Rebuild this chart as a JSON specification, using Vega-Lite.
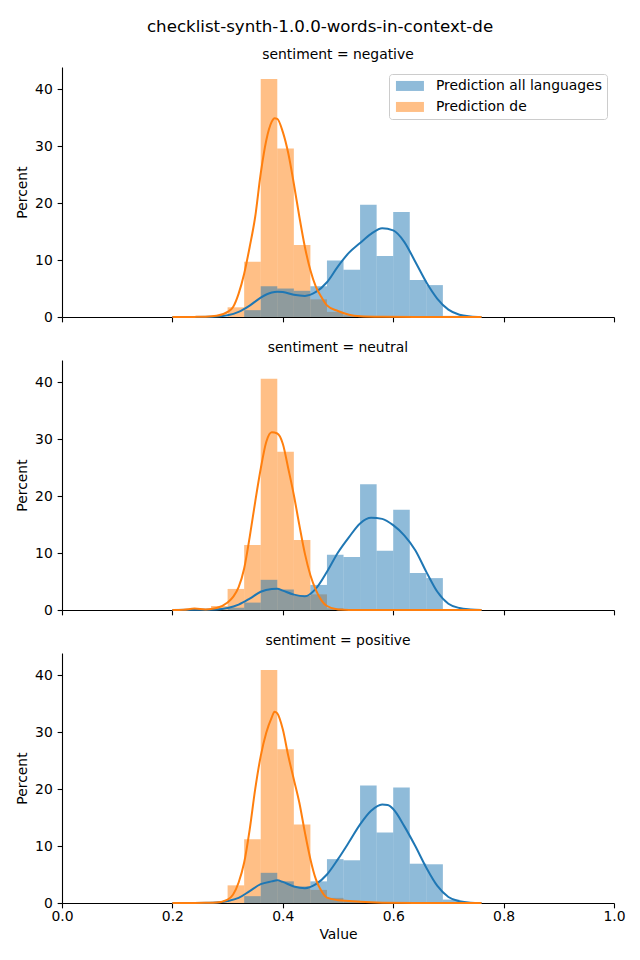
{
  "$schema": "https://vega.github.io/schema/vega-lite/v6.json",
  "padding": {"left": 15, "top": 19, "right": 20, "bottom": 5},
  "background": "white",
  "title": {"text": "checklist-synth-1.0.0-words-in-context-de", "fontSize": 16.67, "font": "DejaVu Sans", "fontWeight": "normal", "anchor": "middle", "baseline": "alphabetic", "offset": -1, "color": "black"},
  "config": {
    "view": {"stroke": null},
    "font": "DejaVu Sans",
    "title": {"fontSize": 13.9, "font": "DejaVu Sans", "fontWeight": "normal", "anchor": "middle", "baseline": "alphabetic", "offset": 5, "color": "black"},
    "axis": {"grid": false, "domainColor": "black", "tickColor": "black", "domainWidth": 1.1, "tickWidth": 1.1, "tickSize": 4.86, "labelPadding": 4.86, "labelFont": "DejaVu Sans", "titleFont": "DejaVu Sans", "labelFontSize": 13.9, "titleFontSize": 13.9, "titleFontWeight": "normal", "labelColor": "black", "titleColor": "black", "titlePadding": 5.56, "labelFlush": false, "labelOverlap": false},
    "axisX": {"labelPadding": 2, "titlePadding": 3.5},
    "legend": {"orient": "top-right", "offset": 7, "padding": 5, "strokeColor": "#cccccc", "fillColor": "rgba(255,255,255,0.8)", "cornerRadius": 3, "labelFont": "DejaVu Sans", "labelFontSize": 13.9, "labelColor": "black", "labelLimit": 0, "symbolType": "M-2.8,-1H2.8V1H-2.8Z", "symbolSize": 100, "symbolOffset": 9, "labelOffset": 19, "symbolOpacity": 0.5, "symbolStrokeWidth": 0, "rowPadding": 6, "title": null}
  },
  "datasets": {
    "hist": [
      {"s": "negative", "series": "Prediction de", "x0": 0.30, "x1": 0.33, "pct": 1.7},
      {"s": "negative", "series": "Prediction de", "x0": 0.33, "x1": 0.36, "pct": 9.7},
      {"s": "negative", "series": "Prediction de", "x0": 0.36, "x1": 0.39, "pct": 41.8},
      {"s": "negative", "series": "Prediction de", "x0": 0.39, "x1": 0.42, "pct": 29.6},
      {"s": "negative", "series": "Prediction de", "x0": 0.42, "x1": 0.45, "pct": 12.65},
      {"s": "negative", "series": "Prediction de", "x0": 0.45, "x1": 0.48, "pct": 3.1},
      {"s": "negative", "series": "Prediction de", "x0": 0.48, "x1": 0.51, "pct": 0.9},
      {"s": "negative", "series": "Prediction de", "x0": 0.51, "x1": 0.54, "pct": 0.3},
      {"s": "neutral", "series": "Prediction de", "x0": 0.27, "x1": 0.30, "pct": 0.7},
      {"s": "neutral", "series": "Prediction de", "x0": 0.30, "x1": 0.33, "pct": 3.7},
      {"s": "neutral", "series": "Prediction de", "x0": 0.33, "x1": 0.36, "pct": 11.4},
      {"s": "neutral", "series": "Prediction de", "x0": 0.36, "x1": 0.39, "pct": 40.6},
      {"s": "neutral", "series": "Prediction de", "x0": 0.39, "x1": 0.42, "pct": 27.8},
      {"s": "neutral", "series": "Prediction de", "x0": 0.42, "x1": 0.45, "pct": 12.3},
      {"s": "neutral", "series": "Prediction de", "x0": 0.45, "x1": 0.48, "pct": 2.75},
      {"s": "neutral", "series": "Prediction de", "x0": 0.48, "x1": 0.51, "pct": 0.3},
      {"s": "positive", "series": "Prediction de", "x0": 0.27, "x1": 0.30, "pct": 0.2},
      {"s": "positive", "series": "Prediction de", "x0": 0.30, "x1": 0.33, "pct": 3.1},
      {"s": "positive", "series": "Prediction de", "x0": 0.33, "x1": 0.36, "pct": 11.2},
      {"s": "positive", "series": "Prediction de", "x0": 0.36, "x1": 0.39, "pct": 40.9},
      {"s": "positive", "series": "Prediction de", "x0": 0.39, "x1": 0.42, "pct": 27.0},
      {"s": "positive", "series": "Prediction de", "x0": 0.42, "x1": 0.45, "pct": 13.8},
      {"s": "positive", "series": "Prediction de", "x0": 0.45, "x1": 0.48, "pct": 2.3},
      {"s": "positive", "series": "Prediction de", "x0": 0.48, "x1": 0.51, "pct": 0.9},
      {"s": "positive", "series": "Prediction de", "x0": 0.51, "x1": 0.54, "pct": 0.4},
      {"s": "negative", "series": "Prediction all languages", "x0": 0.33, "x1": 0.36, "pct": 1.2},
      {"s": "negative", "series": "Prediction all languages", "x0": 0.36, "x1": 0.39, "pct": 5.4},
      {"s": "negative", "series": "Prediction all languages", "x0": 0.39, "x1": 0.42, "pct": 5.0},
      {"s": "negative", "series": "Prediction all languages", "x0": 0.42, "x1": 0.45, "pct": 4.6},
      {"s": "negative", "series": "Prediction all languages", "x0": 0.45, "x1": 0.48, "pct": 5.4},
      {"s": "negative", "series": "Prediction all languages", "x0": 0.48, "x1": 0.51, "pct": 9.9},
      {"s": "negative", "series": "Prediction all languages", "x0": 0.51, "x1": 0.54, "pct": 8.3},
      {"s": "negative", "series": "Prediction all languages", "x0": 0.54, "x1": 0.57, "pct": 19.7},
      {"s": "negative", "series": "Prediction all languages", "x0": 0.57, "x1": 0.60, "pct": 10.7},
      {"s": "negative", "series": "Prediction all languages", "x0": 0.60, "x1": 0.63, "pct": 18.45},
      {"s": "negative", "series": "Prediction all languages", "x0": 0.63, "x1": 0.66, "pct": 6.5},
      {"s": "negative", "series": "Prediction all languages", "x0": 0.66, "x1": 0.69, "pct": 5.6},
      {"s": "negative", "series": "Prediction all languages", "x0": 0.69, "x1": 0.72, "pct": 0.2},
      {"s": "neutral", "series": "Prediction all languages", "x0": 0.30, "x1": 0.33, "pct": 0.4},
      {"s": "neutral", "series": "Prediction all languages", "x0": 0.33, "x1": 0.36, "pct": 1.3},
      {"s": "neutral", "series": "Prediction all languages", "x0": 0.36, "x1": 0.39, "pct": 5.3},
      {"s": "neutral", "series": "Prediction all languages", "x0": 0.39, "x1": 0.42, "pct": 3.6},
      {"s": "neutral", "series": "Prediction all languages", "x0": 0.42, "x1": 0.45, "pct": 2.5},
      {"s": "neutral", "series": "Prediction all languages", "x0": 0.45, "x1": 0.48, "pct": 4.4},
      {"s": "neutral", "series": "Prediction all languages", "x0": 0.48, "x1": 0.51, "pct": 9.7},
      {"s": "neutral", "series": "Prediction all languages", "x0": 0.51, "x1": 0.54, "pct": 9.3},
      {"s": "neutral", "series": "Prediction all languages", "x0": 0.54, "x1": 0.57, "pct": 22.1},
      {"s": "neutral", "series": "Prediction all languages", "x0": 0.57, "x1": 0.60, "pct": 10.4},
      {"s": "neutral", "series": "Prediction all languages", "x0": 0.60, "x1": 0.63, "pct": 17.6},
      {"s": "neutral", "series": "Prediction all languages", "x0": 0.63, "x1": 0.66, "pct": 6.5},
      {"s": "neutral", "series": "Prediction all languages", "x0": 0.66, "x1": 0.69, "pct": 5.6},
      {"s": "positive", "series": "Prediction all languages", "x0": 0.33, "x1": 0.36, "pct": 1.2},
      {"s": "positive", "series": "Prediction all languages", "x0": 0.36, "x1": 0.39, "pct": 5.3},
      {"s": "positive", "series": "Prediction all languages", "x0": 0.39, "x1": 0.42, "pct": 3.8},
      {"s": "positive", "series": "Prediction all languages", "x0": 0.42, "x1": 0.45, "pct": 2.9},
      {"s": "positive", "series": "Prediction all languages", "x0": 0.45, "x1": 0.48, "pct": 3.8},
      {"s": "positive", "series": "Prediction all languages", "x0": 0.48, "x1": 0.51, "pct": 7.7},
      {"s": "positive", "series": "Prediction all languages", "x0": 0.51, "x1": 0.54, "pct": 7.5},
      {"s": "positive", "series": "Prediction all languages", "x0": 0.54, "x1": 0.57, "pct": 20.65},
      {"s": "positive", "series": "Prediction all languages", "x0": 0.57, "x1": 0.60, "pct": 12.4},
      {"s": "positive", "series": "Prediction all languages", "x0": 0.60, "x1": 0.63, "pct": 20.3},
      {"s": "positive", "series": "Prediction all languages", "x0": 0.63, "x1": 0.66, "pct": 6.9},
      {"s": "positive", "series": "Prediction all languages", "x0": 0.66, "x1": 0.69, "pct": 6.8},
      {"s": "positive", "series": "Prediction all languages", "x0": 0.69, "x1": 0.72, "pct": 0.6}
    ],
    "kde": [
      {"s": "negative", "series": "Prediction all languages", "v": 0.20, "d": 0},
      {"s": "negative", "series": "Prediction all languages", "v": 0.24, "d": 0.02},
      {"s": "negative", "series": "Prediction all languages", "v": 0.28, "d": 0.1},
      {"s": "negative", "series": "Prediction all languages", "v": 0.30, "d": 0.3},
      {"s": "negative", "series": "Prediction all languages", "v": 0.32, "d": 0.9},
      {"s": "negative", "series": "Prediction all languages", "v": 0.34, "d": 2.0},
      {"s": "negative", "series": "Prediction all languages", "v": 0.36, "d": 3.4},
      {"s": "negative", "series": "Prediction all languages", "v": 0.38, "d": 4.3},
      {"s": "negative", "series": "Prediction all languages", "v": 0.39, "d": 4.45},
      {"s": "negative", "series": "Prediction all languages", "v": 0.40, "d": 4.4},
      {"s": "negative", "series": "Prediction all languages", "v": 0.42, "d": 3.9},
      {"s": "negative", "series": "Prediction all languages", "v": 0.44, "d": 3.7},
      {"s": "negative", "series": "Prediction all languages", "v": 0.46, "d": 4.4},
      {"s": "negative", "series": "Prediction all languages", "v": 0.48, "d": 6.1},
      {"s": "negative", "series": "Prediction all languages", "v": 0.50, "d": 8.9},
      {"s": "negative", "series": "Prediction all languages", "v": 0.52, "d": 11.3},
      {"s": "negative", "series": "Prediction all languages", "v": 0.54, "d": 13.0},
      {"s": "negative", "series": "Prediction all languages", "v": 0.56, "d": 14.6},
      {"s": "negative", "series": "Prediction all languages", "v": 0.58, "d": 15.6},
      {"s": "negative", "series": "Prediction all languages", "v": 0.60, "d": 15.2},
      {"s": "negative", "series": "Prediction all languages", "v": 0.62, "d": 13.2},
      {"s": "negative", "series": "Prediction all languages", "v": 0.64, "d": 9.7},
      {"s": "negative", "series": "Prediction all languages", "v": 0.66, "d": 6.1},
      {"s": "negative", "series": "Prediction all languages", "v": 0.68, "d": 3.2},
      {"s": "negative", "series": "Prediction all languages", "v": 0.70, "d": 1.3},
      {"s": "negative", "series": "Prediction all languages", "v": 0.72, "d": 0.4},
      {"s": "negative", "series": "Prediction all languages", "v": 0.74, "d": 0.1},
      {"s": "negative", "series": "Prediction all languages", "v": 0.76, "d": 0},
      {"s": "negative", "series": "Prediction de", "v": 0.20, "d": 0},
      {"s": "negative", "series": "Prediction de", "v": 0.24, "d": 0.02},
      {"s": "negative", "series": "Prediction de", "v": 0.26, "d": 0.05},
      {"s": "negative", "series": "Prediction de", "v": 0.28, "d": 0.2},
      {"s": "negative", "series": "Prediction de", "v": 0.30, "d": 0.9},
      {"s": "negative", "series": "Prediction de", "v": 0.31, "d": 1.75},
      {"s": "negative", "series": "Prediction de", "v": 0.32, "d": 4.1},
      {"s": "negative", "series": "Prediction de", "v": 0.33, "d": 7.6},
      {"s": "negative", "series": "Prediction de", "v": 0.34, "d": 12.3},
      {"s": "negative", "series": "Prediction de", "v": 0.35, "d": 17.6},
      {"s": "negative", "series": "Prediction de", "v": 0.36, "d": 25.2},
      {"s": "negative", "series": "Prediction de", "v": 0.37, "d": 31.0},
      {"s": "negative", "series": "Prediction de", "v": 0.38, "d": 34.3},
      {"s": "negative", "series": "Prediction de", "v": 0.385, "d": 34.9},
      {"s": "negative", "series": "Prediction de", "v": 0.39, "d": 34.8},
      {"s": "negative", "series": "Prediction de", "v": 0.40, "d": 32.5},
      {"s": "negative", "series": "Prediction de", "v": 0.41, "d": 28.7},
      {"s": "negative", "series": "Prediction de", "v": 0.42, "d": 23.4},
      {"s": "negative", "series": "Prediction de", "v": 0.43, "d": 17.6},
      {"s": "negative", "series": "Prediction de", "v": 0.44, "d": 12.3},
      {"s": "negative", "series": "Prediction de", "v": 0.45, "d": 8.2},
      {"s": "negative", "series": "Prediction de", "v": 0.46, "d": 5.3},
      {"s": "negative", "series": "Prediction de", "v": 0.47, "d": 3.5},
      {"s": "negative", "series": "Prediction de", "v": 0.48, "d": 2.05},
      {"s": "negative", "series": "Prediction de", "v": 0.50, "d": 1.05},
      {"s": "negative", "series": "Prediction de", "v": 0.52, "d": 0.4},
      {"s": "negative", "series": "Prediction de", "v": 0.54, "d": 0.15},
      {"s": "negative", "series": "Prediction de", "v": 0.58, "d": 0.05},
      {"s": "negative", "series": "Prediction de", "v": 0.64, "d": 0.01},
      {"s": "negative", "series": "Prediction de", "v": 0.76, "d": 0},
      {"s": "neutral", "series": "Prediction all languages", "v": 0.20, "d": 0},
      {"s": "neutral", "series": "Prediction all languages", "v": 0.24, "d": 0.03},
      {"s": "neutral", "series": "Prediction all languages", "v": 0.28, "d": 0.1},
      {"s": "neutral", "series": "Prediction all languages", "v": 0.30, "d": 0.35},
      {"s": "neutral", "series": "Prediction all languages", "v": 0.32, "d": 0.95},
      {"s": "neutral", "series": "Prediction all languages", "v": 0.34, "d": 2.0},
      {"s": "neutral", "series": "Prediction all languages", "v": 0.36, "d": 3.2},
      {"s": "neutral", "series": "Prediction all languages", "v": 0.38, "d": 3.7},
      {"s": "neutral", "series": "Prediction all languages", "v": 0.39, "d": 3.75},
      {"s": "neutral", "series": "Prediction all languages", "v": 0.40, "d": 3.4},
      {"s": "neutral", "series": "Prediction all languages", "v": 0.42, "d": 2.7},
      {"s": "neutral", "series": "Prediction all languages", "v": 0.44, "d": 2.4},
      {"s": "neutral", "series": "Prediction all languages", "v": 0.46, "d": 3.75},
      {"s": "neutral", "series": "Prediction all languages", "v": 0.48, "d": 6.7},
      {"s": "neutral", "series": "Prediction all languages", "v": 0.50, "d": 10.1},
      {"s": "neutral", "series": "Prediction all languages", "v": 0.52, "d": 12.8},
      {"s": "neutral", "series": "Prediction all languages", "v": 0.54, "d": 15.2},
      {"s": "neutral", "series": "Prediction all languages", "v": 0.56, "d": 16.2},
      {"s": "neutral", "series": "Prediction all languages", "v": 0.58, "d": 16.0},
      {"s": "neutral", "series": "Prediction all languages", "v": 0.60, "d": 14.9},
      {"s": "neutral", "series": "Prediction all languages", "v": 0.62, "d": 13.1},
      {"s": "neutral", "series": "Prediction all languages", "v": 0.64, "d": 10.5},
      {"s": "neutral", "series": "Prediction all languages", "v": 0.66, "d": 6.7},
      {"s": "neutral", "series": "Prediction all languages", "v": 0.68, "d": 3.2},
      {"s": "neutral", "series": "Prediction all languages", "v": 0.70, "d": 1.1},
      {"s": "neutral", "series": "Prediction all languages", "v": 0.72, "d": 0.35},
      {"s": "neutral", "series": "Prediction all languages", "v": 0.74, "d": 0.1},
      {"s": "neutral", "series": "Prediction all languages", "v": 0.76, "d": 0},
      {"s": "neutral", "series": "Prediction de", "v": 0.20, "d": 0},
      {"s": "neutral", "series": "Prediction de", "v": 0.22, "d": 0.05},
      {"s": "neutral", "series": "Prediction de", "v": 0.24, "d": 0.25},
      {"s": "neutral", "series": "Prediction de", "v": 0.26, "d": 0.1},
      {"s": "neutral", "series": "Prediction de", "v": 0.28, "d": 0.35},
      {"s": "neutral", "series": "Prediction de", "v": 0.30, "d": 1.3},
      {"s": "neutral", "series": "Prediction de", "v": 0.31, "d": 2.3},
      {"s": "neutral", "series": "Prediction de", "v": 0.32, "d": 4.0},
      {"s": "neutral", "series": "Prediction de", "v": 0.33, "d": 7.3},
      {"s": "neutral", "series": "Prediction de", "v": 0.34, "d": 12.8},
      {"s": "neutral", "series": "Prediction de", "v": 0.35, "d": 19.0},
      {"s": "neutral", "series": "Prediction de", "v": 0.36, "d": 24.8},
      {"s": "neutral", "series": "Prediction de", "v": 0.37, "d": 29.5},
      {"s": "neutral", "series": "Prediction de", "v": 0.38, "d": 31.2},
      {"s": "neutral", "series": "Prediction de", "v": 0.39, "d": 31.0},
      {"s": "neutral", "series": "Prediction de", "v": 0.40, "d": 29.2},
      {"s": "neutral", "series": "Prediction de", "v": 0.41, "d": 24.8},
      {"s": "neutral", "series": "Prediction de", "v": 0.42, "d": 20.2},
      {"s": "neutral", "series": "Prediction de", "v": 0.43, "d": 14.9},
      {"s": "neutral", "series": "Prediction de", "v": 0.44, "d": 9.9},
      {"s": "neutral", "series": "Prediction de", "v": 0.45, "d": 6.1},
      {"s": "neutral", "series": "Prediction de", "v": 0.46, "d": 3.5},
      {"s": "neutral", "series": "Prediction de", "v": 0.47, "d": 1.7},
      {"s": "neutral", "series": "Prediction de", "v": 0.48, "d": 0.7},
      {"s": "neutral", "series": "Prediction de", "v": 0.50, "d": 0.1},
      {"s": "neutral", "series": "Prediction de", "v": 0.52, "d": 0.02},
      {"s": "neutral", "series": "Prediction de", "v": 0.60, "d": 0},
      {"s": "neutral", "series": "Prediction de", "v": 0.76, "d": 0},
      {"s": "positive", "series": "Prediction all languages", "v": 0.20, "d": 0},
      {"s": "positive", "series": "Prediction all languages", "v": 0.24, "d": 0.02},
      {"s": "positive", "series": "Prediction all languages", "v": 0.28, "d": 0.1},
      {"s": "positive", "series": "Prediction all languages", "v": 0.30, "d": 0.35},
      {"s": "positive", "series": "Prediction all languages", "v": 0.32, "d": 0.9},
      {"s": "positive", "series": "Prediction all languages", "v": 0.34, "d": 2.1},
      {"s": "positive", "series": "Prediction all languages", "v": 0.36, "d": 3.3},
      {"s": "positive", "series": "Prediction all languages", "v": 0.38, "d": 3.8},
      {"s": "positive", "series": "Prediction all languages", "v": 0.39, "d": 4.0},
      {"s": "positive", "series": "Prediction all languages", "v": 0.40, "d": 3.7},
      {"s": "positive", "series": "Prediction all languages", "v": 0.42, "d": 2.9},
      {"s": "positive", "series": "Prediction all languages", "v": 0.44, "d": 2.6},
      {"s": "positive", "series": "Prediction all languages", "v": 0.46, "d": 3.3},
      {"s": "positive", "series": "Prediction all languages", "v": 0.48, "d": 5.0},
      {"s": "positive", "series": "Prediction all languages", "v": 0.50, "d": 7.7},
      {"s": "positive", "series": "Prediction all languages", "v": 0.52, "d": 10.7},
      {"s": "positive", "series": "Prediction all languages", "v": 0.54, "d": 13.8},
      {"s": "positive", "series": "Prediction all languages", "v": 0.56, "d": 16.2},
      {"s": "positive", "series": "Prediction all languages", "v": 0.58, "d": 17.3},
      {"s": "positive", "series": "Prediction all languages", "v": 0.59, "d": 17.2},
      {"s": "positive", "series": "Prediction all languages", "v": 0.60, "d": 16.5},
      {"s": "positive", "series": "Prediction all languages", "v": 0.62, "d": 13.5},
      {"s": "positive", "series": "Prediction all languages", "v": 0.64, "d": 10.0},
      {"s": "positive", "series": "Prediction all languages", "v": 0.66, "d": 6.2},
      {"s": "positive", "series": "Prediction all languages", "v": 0.68, "d": 3.0},
      {"s": "positive", "series": "Prediction all languages", "v": 0.70, "d": 1.05},
      {"s": "positive", "series": "Prediction all languages", "v": 0.72, "d": 0.3},
      {"s": "positive", "series": "Prediction all languages", "v": 0.74, "d": 0.05},
      {"s": "positive", "series": "Prediction all languages", "v": 0.76, "d": 0},
      {"s": "positive", "series": "Prediction de", "v": 0.20, "d": 0},
      {"s": "positive", "series": "Prediction de", "v": 0.24, "d": 0.02},
      {"s": "positive", "series": "Prediction de", "v": 0.26, "d": 0.05},
      {"s": "positive", "series": "Prediction de", "v": 0.28, "d": 0.1},
      {"s": "positive", "series": "Prediction de", "v": 0.30, "d": 0.6},
      {"s": "positive", "series": "Prediction de", "v": 0.31, "d": 1.5},
      {"s": "positive", "series": "Prediction de", "v": 0.32, "d": 3.6},
      {"s": "positive", "series": "Prediction de", "v": 0.33, "d": 7.1},
      {"s": "positive", "series": "Prediction de", "v": 0.34, "d": 12.9},
      {"s": "positive", "series": "Prediction de", "v": 0.35, "d": 20.0},
      {"s": "positive", "series": "Prediction de", "v": 0.36, "d": 25.8},
      {"s": "positive", "series": "Prediction de", "v": 0.37, "d": 29.9},
      {"s": "positive", "series": "Prediction de", "v": 0.38, "d": 32.6},
      {"s": "positive", "series": "Prediction de", "v": 0.385, "d": 33.6},
      {"s": "positive", "series": "Prediction de", "v": 0.39, "d": 33.3},
      {"s": "positive", "series": "Prediction de", "v": 0.40, "d": 30.5},
      {"s": "positive", "series": "Prediction de", "v": 0.41, "d": 25.8},
      {"s": "positive", "series": "Prediction de", "v": 0.42, "d": 21.7},
      {"s": "positive", "series": "Prediction de", "v": 0.43, "d": 17.6},
      {"s": "positive", "series": "Prediction de", "v": 0.44, "d": 12.4},
      {"s": "positive", "series": "Prediction de", "v": 0.45, "d": 7.7},
      {"s": "positive", "series": "Prediction de", "v": 0.46, "d": 4.15},
      {"s": "positive", "series": "Prediction de", "v": 0.47, "d": 2.1},
      {"s": "positive", "series": "Prediction de", "v": 0.48, "d": 0.95},
      {"s": "positive", "series": "Prediction de", "v": 0.50, "d": 0.5},
      {"s": "positive", "series": "Prediction de", "v": 0.52, "d": 0.35},
      {"s": "positive", "series": "Prediction de", "v": 0.54, "d": 0.2},
      {"s": "positive", "series": "Prediction de", "v": 0.58, "d": 0.05},
      {"s": "positive", "series": "Prediction de", "v": 0.64, "d": 0.01},
      {"s": "positive", "series": "Prediction de", "v": 0.76, "d": 0}
    ]
  },
  "spacing": 17,
  "resolve": {"legend": {"color": "independent"}},
  "vconcat": [
    {
      "title": "sentiment = negative",
      "width": 552, "height": 250,
      "layer": [
        {
          "data": {"name": "hist"},
          "transform": [{"filter": "datum.s === 'negative'"}],
          "mark": {"type": "bar", "opacity": 0.5, "strokeWidth": 0},
          "encoding": {
            "x": {"field": "x0", "type": "quantitative", "scale": {"domain": [0, 1], "nice": false}, "axis": {"values": [0, 0.2, 0.4, 0.6, 0.8, 1.0], "labels": false, "title": null}},
            "x2": {"field": "x1"},
            "y": {"field": "pct", "type": "quantitative", "stack": null, "scale": {"domain": [0, 43.9], "nice": false}, "axis": {"values": [0, 10, 20, 30, 40], "title": "Percent"}},
            "y2": {"datum": 0},
            "color": {"field": "series", "type": "nominal", "scale": {"domain": ["Prediction all languages", "Prediction de"], "range": ["#1f77b4", "#ff7f0e"]}, "legend": {"orient": "top-right"}}
          }
        },
        {
          "data": {"name": "kde"},
          "transform": [{"filter": "datum.s === 'negative'"}],
          "mark": {"type": "line", "strokeWidth": 2, "interpolate": "monotone"},
          "encoding": {
            "x": {"field": "v", "type": "quantitative"},
            "y": {"field": "d", "type": "quantitative"},
            "color": {"field": "series", "type": "nominal", "legend": null}
          }
        }
      ]
    },
    {
      "title": "sentiment = neutral",
      "width": 552, "height": 250,
      "layer": [
        {
          "data": {"name": "hist"},
          "transform": [{"filter": "datum.s === 'neutral'"}],
          "mark": {"type": "bar", "opacity": 0.5, "strokeWidth": 0},
          "encoding": {
            "x": {"field": "x0", "type": "quantitative", "scale": {"domain": [0, 1], "nice": false}, "axis": {"values": [0, 0.2, 0.4, 0.6, 0.8, 1.0], "labels": false, "title": null}},
            "x2": {"field": "x1"},
            "y": {"field": "pct", "type": "quantitative", "stack": null, "scale": {"domain": [0, 43.9], "nice": false}, "axis": {"values": [0, 10, 20, 30, 40], "title": "Percent"}},
            "y2": {"datum": 0},
            "color": {"field": "series", "type": "nominal", "scale": {"domain": ["Prediction all languages", "Prediction de"], "range": ["#1f77b4", "#ff7f0e"]}, "legend": null}
          }
        },
        {
          "data": {"name": "kde"},
          "transform": [{"filter": "datum.s === 'neutral'"}],
          "mark": {"type": "line", "strokeWidth": 2, "interpolate": "monotone"},
          "encoding": {
            "x": {"field": "v", "type": "quantitative"},
            "y": {"field": "d", "type": "quantitative"},
            "color": {"field": "series", "type": "nominal", "legend": null}
          }
        }
      ]
    },
    {
      "title": "sentiment = positive",
      "width": 552, "height": 250,
      "layer": [
        {
          "data": {"name": "hist"},
          "transform": [{"filter": "datum.s === 'positive'"}],
          "mark": {"type": "bar", "opacity": 0.5, "strokeWidth": 0},
          "encoding": {
            "x": {"field": "x0", "type": "quantitative", "scale": {"domain": [0, 1], "nice": false}, "axis": {"values": [0, 0.2, 0.4, 0.6, 0.8, 1.0], "format": ".1f", "title": "Value"}},
            "x2": {"field": "x1"},
            "y": {"field": "pct", "type": "quantitative", "stack": null, "scale": {"domain": [0, 43.9], "nice": false}, "axis": {"values": [0, 10, 20, 30, 40], "title": "Percent"}},
            "y2": {"datum": 0},
            "color": {"field": "series", "type": "nominal", "scale": {"domain": ["Prediction all languages", "Prediction de"], "range": ["#1f77b4", "#ff7f0e"]}, "legend": null}
          }
        },
        {
          "data": {"name": "kde"},
          "transform": [{"filter": "datum.s === 'positive'"}],
          "mark": {"type": "line", "strokeWidth": 2, "interpolate": "monotone"},
          "encoding": {
            "x": {"field": "v", "type": "quantitative"},
            "y": {"field": "d", "type": "quantitative"},
            "color": {"field": "series", "type": "nominal", "legend": null}
          }
        }
      ]
    }
  ]
}
